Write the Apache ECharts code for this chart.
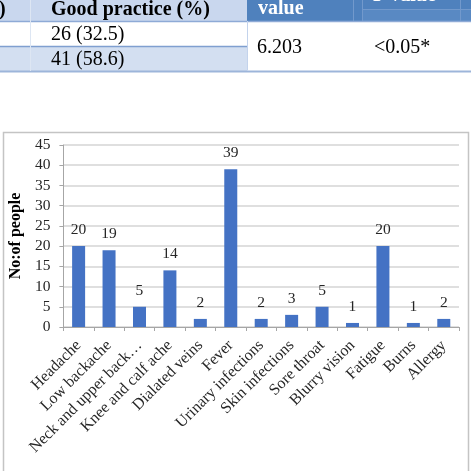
<!DOCTYPE html>
<html>
<head>
<meta charset="utf-8">
<script src="https://cdn.jsdelivr.net/npm/echarts@6/dist/echarts.min.js"></script>
<style>
html,body{margin:0;padding:0;background:#fff;}
#c{width:471px;height:471px;}
</style>
</head>
<body>
<div id="c"></div>
<script>
// ---- data ----
const categories = ["Headache","Low backache","Neck and upper back…","Knee and calf ache","Dialated veins","Fever","Urinary infections","Skin infections","Sore throat","Blurry vision","Fatigue","Burns","Allergy"];
const people = [20,19,5,14,2,39,2,3,5,1,20,1,2];
const yTicks = {min:0, max:45, interval:5};
const yAxisName = "No:of people";
// table fragment above the chart
const tableHeader = [")", "Good practice (%)", "value", "P value"];
const tableRows = ["26 (32.5)", "41 (58.6)"];
const tableMerged = ["6.203", "<0.05*"];

const SERIF = '"Liberation Serif","Times New Roman",serif';
const chart = echarts.init(document.getElementById('c'), null, {renderer:'canvas'});

const g = [];
// table backgrounds
g.push({type:'rect', shape:{x:0,y:0,width:247,height:21}, style:{fill:'#c9d7ee'}, z:1});
g.push({type:'rect', shape:{x:247,y:0,width:224,height:21}, style:{fill:'#4f81bd'}, z:1});
g.push({type:'rect', shape:{x:362,y:9,width:109,height:12}, style:{fill:'#5989c3'}, z:1});
g.push({type:'rect', shape:{x:0,y:47,width:247,height:24}, style:{fill:'#d3dff1'}, z:1});
// table lines
const lines = [
  [0,21.5,471,21.5,'#8eaad6',1.5],
  [0,46.5,247,46.5,'#7f9fd0',1.5],
  [0,71.5,471,71.5,'#9db5da',2],
  [30.5,0,30.5,71,'#dde6f3',1],
  [247.5,21,247.5,71,'#c3d3ec',1],
  [353.5,0,353.5,21,'#7299cc',1],
  [362.5,0,362.5,21,'#7299cc',1],
  [460.5,0,460.5,21,'#7299cc',1],
  [362,9.5,471,9.5,'#7299cc',1]
];
lines.forEach(l=>g.push({type:'line', shape:{x1:l[0],y1:l[1],x2:l[2],y2:l[3]}, style:{stroke:l[4], lineWidth:l[5]}, z:2}));
// table texts
const TF = '20px ' + SERIF, TFB = 'bold 20px ' + SERIF;
g.push({type:'text', x:-1, y:10, style:{text:tableHeader[0], font:TFB, fill:'#000', verticalAlign:'middle'}, z:3});
g.push({type:'text', x:51, y:10, style:{text:tableHeader[1], font:TFB, fill:'#000', verticalAlign:'middle'}, z:3});
g.push({type:'text', x:258, y:9, style:{text:tableHeader[2], font:TFB, fill:'#fff', verticalAlign:'middle'}, z:3});
g.push({type:'text', x:373, y:-4, style:{text:tableHeader[3], font:TFB, fill:'#fff', verticalAlign:'middle'}, z:3});
g.push({type:'text', x:51, y:34.5, style:{text:tableRows[0], font:TF, fill:'#000', verticalAlign:'middle'}, z:3});
g.push({type:'text', x:51, y:59.5, style:{text:tableRows[1], font:TF, fill:'#000', verticalAlign:'middle'}, z:3});
g.push({type:'text', x:257, y:48, style:{text:tableMerged[0], font:TF, fill:'#000', verticalAlign:'middle'}, z:3});
g.push({type:'text', x:374, y:48, style:{text:tableMerged[1], font:TF, fill:'#000', verticalAlign:'middle'}, z:3});
// chart frame
g.push({type:'rect', shape:{x:3.5,y:132.5,width:465,height:360}, style:{fill:null, stroke:'#c4c4c4', lineWidth:1.5}, z:0});

chart.setOption({
  animation:false,
  backgroundColor:'#fff',
  textStyle:{fontFamily:SERIF},
  graphic:g,
  grid:{left:53, right:12, top:145, bottom:144, containLabel:false},
  xAxis:{
    type:'category', data:categories,
    axisLine:{lineStyle:{color:'#a6a6a6', width:1}},
    axisTick:{show:true, length:4, lineStyle:{color:'#a6a6a6'}},
    axisLabel:{interval:0, rotate:45, margin:16, color:'#262626', fontSize:16, fontFamily:SERIF}
  },
  yAxis:{
    type:'value', min:yTicks.min, max:yTicks.max, interval:yTicks.interval,
    name:yAxisName, nameLocation:'middle', nameGap:25,
    nameTextStyle:{fontFamily:SERIF, fontWeight:'bold', fontSize:16, color:'#000'},
    axisLine:{show:true, lineStyle:{color:'#a6a6a6', width:1}},
    axisTick:{show:true, length:4, lineStyle:{color:'#a6a6a6'}},
    axisLabel:{color:'#262626', fontSize:15.5, fontFamily:SERIF, margin:13},
    splitLine:{lineStyle:{color:'#d4d4d4', width:1.5}}
  },
  series:[{
    type:'bar', data:people, barWidth:13,
    itemStyle:{color:'#4472c4'},
    label:{show:true, position:'top', distance:8, color:'#262626', fontSize:15.5, fontFamily:SERIF}
  }]
});
</script>
</body>
</html>
